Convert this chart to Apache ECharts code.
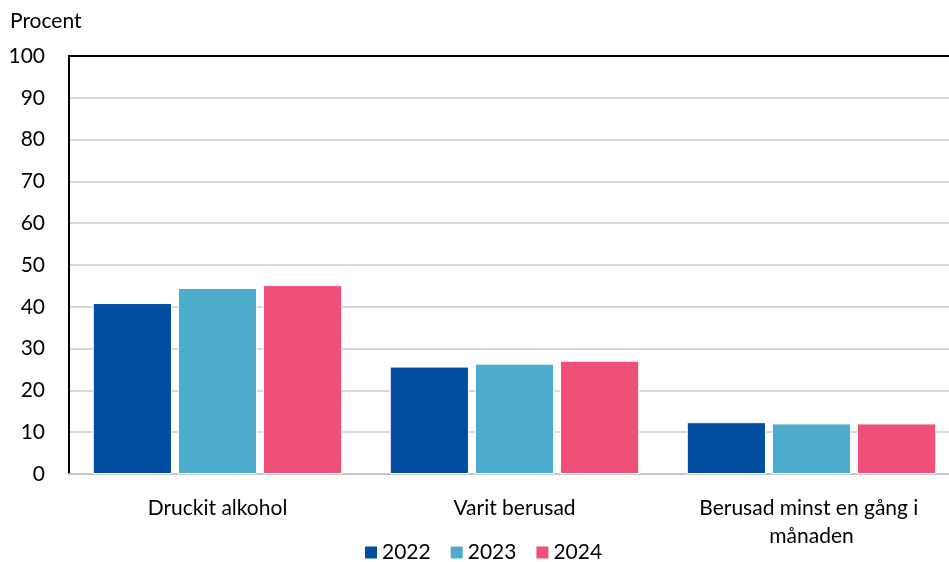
<!DOCTYPE html>
<html>
<head>
<meta charset="utf-8">
<script src="https://cdn.jsdelivr.net/npm/echarts@6/dist/echarts.min.js"></script>
<style>html,body{margin:0;padding:0;background:#fff;overflow:hidden}#c{width:949px;height:562px}</style>
</head>
<body>
<div id="c"></div>
<script>
const categories = ["Druckit alkohol", "Varit berusad", "Berusad minst en gång i månaden"];
const years = ["2022", "2023", "2024"];
const values2022 = [40.9, 25.7, 12.4];
const values2023 = [44.5, 26.4, 12.1];
const values2024 = [45.2, 27.1, 12.1];
const yTicks = { min: 0, max: 100, interval: 10 };
const colors = ["#034EA2", "#4DABCB", "#EF5078"];

const font = "Lato, 'Open Sans', sans-serif";
const fs = 21;
const chart = echarts.init(document.getElementById('c'));
const seriesData = [values2022, values2023, values2024];
chart.setOption({
  animation: false,
  textStyle: { fontFamily: font },
  title: {
    text: "Procent", left: 5, top: 6,
    textStyle: { fontFamily: font, fontSize: fs, fontWeight: 'normal', color: '#000' }
  },
  legend: {
    data: years, bottom: -1, left: 363, padding: 0,
    itemWidth: 14, itemHeight: 14, itemGap: 18, icon: 'rect',
    textStyle: { fontFamily: font, fontSize: fs, color: '#000', padding: [0,0,0,-1] }
  },
  grid: { left: 69, right: -11, top: 56, bottom: 88, containLabel: false, outerBoundsMode: 'none' },
  xAxis: [{
    type: 'category', data: categories,
    axisLine: { show: true, lineStyle: { color: '#c8c8c8', width: 2 } },
    axisTick: { show: false },
    axisLabel: { fontFamily: font, fontSize: fs, color: '#000', margin: 20, width: 250, overflow: 'break', lineHeight: 28, interval: 0 }
  }, {
    type: 'category', data: categories, position: 'top',
    axisLine: { show: true, lineStyle: { color: '#000', width: 2 } },
    axisTick: { show: false }, axisLabel: { show: false }
  }],
  yAxis: {
    type: 'value', min: yTicks.min, max: yTicks.max, interval: yTicks.interval,
    axisLine: { show: true, lineStyle: { color: '#000', width: 2 } },
    axisTick: { show: false },
    axisLabel: { fontFamily: font, fontSize: fs, color: '#000', margin: 24 },
    splitLine: { lineStyle: { color: '#d9d9d9', width: 2 } }
  },
  series: years.map((y, i) => ({
    name: y, type: 'bar', data: seriesData[i],
    barGap: '7.5%', barCategoryGap: '16%',
    itemStyle: { color: colors[i], borderColor: '#fff', borderWidth: 1 }
  }))
});
</script>
</body>
</html>
